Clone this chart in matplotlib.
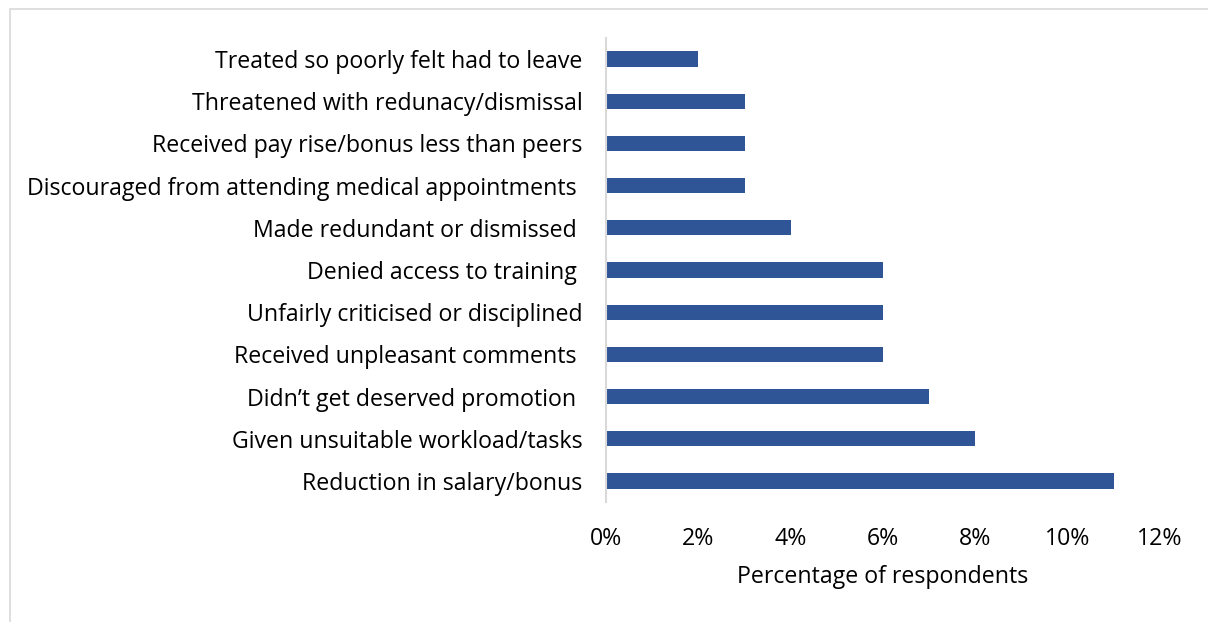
import matplotlib.pyplot as plt
from matplotlib.patches import Rectangle
from matplotlib.ticker import PercentFormatter

plt.rcParams['font.family'] = ['Open Sans', 'DejaVu Sans']

categories = [
    'Treated so poorly felt had to leave',
    'Threatened with redunacy/dismissal',
    'Received pay rise/bonus less than peers',
    'Discouraged from attending medical appointments ',
    'Made redundant or dismissed ',
    'Denied access to training ',
    'Unfairly criticised or disciplined',
    'Received unpleasant comments ',
    'Didn\u2019t get deserved promotion ',
    'Given unsuitable workload/tasks',
    'Reduction in salary/bonus',
]
values = [2, 3, 3, 3, 4, 6, 6, 6, 7, 8, 11]

W, H = 1208, 622
fig = plt.figure(figsize=(W / 100, H / 100), dpi=100)
ax = fig.add_axes([606 / W, 1 - 502 / H, (1160 - 606) / W, (502 - 38) / H])

ypos = list(range(len(categories)))[::-1]
ax.barh(ypos, values, height=0.36, color='#2F5597')

ax.set_xlim(0, 12)
ax.set_ylim(-0.5, len(categories) - 0.5)
ax.set_xticks(range(0, 13, 2))
ax.xaxis.set_major_formatter(PercentFormatter(decimals=0))
ax.set_yticks(ypos)
ax.set_yticklabels(categories)

for s in ['top', 'right', 'bottom']:
    ax.spines[s].set_visible(False)
ax.spines['left'].set_color('#D9D9D9')
ax.spines['left'].set_linewidth(1.5)
ax.tick_params(axis='both', length=0, labelsize=16.7, colors='black')
ax.tick_params(axis='y', pad=17)
ax.tick_params(axis='x', pad=18)
ax.set_xlabel('Percentage of respondents', fontsize=16.7, labelpad=10)

# chart frame
fig.patches.append(Rectangle((10 / W, -0.1), 1.2, 1 - 9 / H + 0.1,
                             transform=fig.transFigure, fill=False,
                             edgecolor='#D9D9D9', linewidth=1.2))

fig.savefig('out.png', dpi=100)
